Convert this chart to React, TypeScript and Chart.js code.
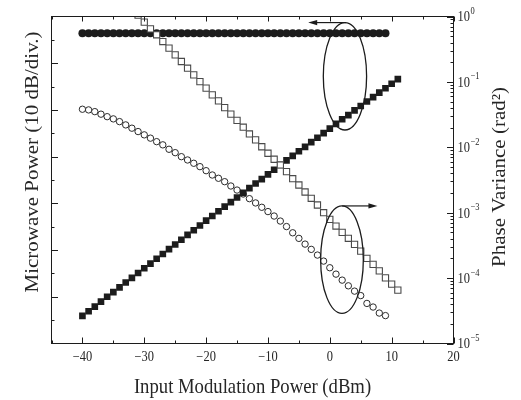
import React, { useEffect, useRef } from "react";
import { Chart, registerables } from "chart.js";

Chart.register(...registerables);

// ---------- data ----------
const inputPower = [
  -40, -39, -38, -37, -36, -35, -34, -33, -32, -31, -30, -29, -28, -27, -26, -25, -24, -23, -22, -21,
  -20, -19, -18, -17, -16, -15, -14, -13, -12, -11, -10, -9, -8, -7, -6, -5, -4, -3, -2, -1,
  0, 1, 2, 3, 4, 5, 6, 7, 8, 9, 10, 11,
];

// Microwave power (left axis, 10 dB/div.) — filled circles
const microwaveCircles = [
  66.4, 66.4, 66.4, 66.4, 66.4, 66.4, 66.4, 66.4, 66.4, 66.4, 66.4, 66.4, 66.4, 66.4, 66.4, 66.4, 66.4, 66.4, 66.4, 66.4,
  66.4, 66.4, 66.4, 66.4, 66.4, 66.4, 66.4, 66.4, 66.4, 66.4, 66.4, 66.4, 66.4, 66.4, 66.4, 66.4, 66.4, 66.4, 66.4, 66.4,
  66.4, 66.4, 66.4, 66.4, 66.4, 66.4, 66.4, 66.4, 66.4, 66.4, null, null,
];

// Microwave power (left axis) — filled squares
const microwaveSquares = [
  5.9, 6.9, 7.9, 8.95, 10.0, 11.0, 12.0, 13.05, 14.05, 15.1, 16.1, 17.1, 18.15, 19.15, 20.2, 21.2, 22.2, 23.25, 24.25, 25.25,
  26.3, 27.3, 28.3, 29.3, 30.25, 31.25, 32.25, 33.25, 34.25, 35.2, 36.2, 37.2, 38.2, 39.2, 40.15, 41.15, 42.1, 43.1, 44.05, 45.05,
  46.0, 47.0, 48.0, 48.9, 49.9, 50.85, 51.8, 52.75, 53.7, 54.65, 55.6, 56.6,
];

// Phase variance (right axis, rad^2) — open squares
const varianceSquares = [
  null, null, null, null, null, null, null, null, null,
  1.05, 0.821, 0.648, 0.525, 0.414, 0.328, 0.259, 0.205, 0.162, 0.128, 0.101,
  0.0802, 0.0633, 0.0513, 0.0405, 0.0321, 0.0258, 0.0203, 0.016, 0.013, 0.0102,
  0.00811, 0.00656, 0.00537, 0.00424, 0.00331, 0.00265, 0.00207, 0.00166, 0.00131, 0.001,
  0.000792, 0.000625, 0.000501, 0.000406, 0.000328, 0.000259, 0.0002, 0.000162, 0.000129, 0.000101,
  0.0000809, 0.0000655,
];

// Phase variance (right axis) — open circles
const varianceCircles = [
  0.0382, 0.0373, 0.0351, 0.0321, 0.0294, 0.0272, 0.0247, 0.022, 0.0196, 0.0174,
  0.0155, 0.0138, 0.0122, 0.0109, 0.00933, 0.00828, 0.00719, 0.0064, 0.0057, 0.00506,
  0.00439, 0.00377, 0.00336, 0.00298, 0.00256, 0.00222, 0.00193, 0.00164, 0.00141, 0.00121,
  0.00104, 0.000889, 0.000745, 0.000614, 0.000493, 0.000405, 0.000331, 0.000275, 0.000225, 0.000182,
  0.000144, 0.000115, 0.0000931, 0.0000762, 0.0000632, 0.000054, 0.000041, 0.0000361, 0.0000292, 0.0000267,
  null, null,
];

const xTickValues = [-40, -30, -20, -10, 0, 10, 20];
const xTickLabels = ["\u221240", "\u221230", "\u221220", "\u221210", "0", "10", "20"];
const xMinorTicks = [-45, -35, -25, -15, -5, 5, 15];
const leftMajorTicks = [10, 20, 30, 40, 50, 60];
const leftMinorTicks = [5, 15, 25, 35, 45, 55, 65];
const rightExponents = [0, -1, -2, -3, -4, -5];

const xTitle = "Input Modulation Power (dBm)";
const leftTitle = "Microwave Power (10 dB/div.)";
const rightTitle = "Phase Variance (rad\u00B2)";

// annotations in data units (x: dBm, y: left-axis units)
const ellipses = [
  { cx: 2.45, cy: 57.2, rx: 3.5, ry: 11.5 },
  { cx: 1.97, cy: 17.95, rx: 3.45, ry: 11.5 },
];
const arrows = [
  { x0: 2.6, x1: -3.5, y: 68.7 },
  { x0: 2.0, x1: 7.7, y: 29.45 },
];

const FONT = '"Liberation Serif", "Times New Roman", serif';
const SX = 0.89;
const INK = "#1c1c1c";

function txt(ctx: CanvasRenderingContext2D, s: string, x: number, y: number, size: number, align: CanvasTextAlign, rot = false) {
  ctx.save();
  ctx.translate(x, y);
  ctx.scale(SX, 1);
  if (rot) ctx.rotate(-Math.PI / 2);
  ctx.font = `${size}px ${FONT}`;
  ctx.textAlign = align;
  ctx.textBaseline = "alphabetic";
  ctx.fillStyle = "#262626";
  ctx.fillText(s, 0, 0);
  const w = ctx.measureText(s).width * SX;
  ctx.restore();
  return w;
}

const framePlugin = {
  id: "frame",
  afterDatasetsDraw(chart: any) {
    const ctx: CanvasRenderingContext2D = chart.ctx;
    const { left, right, top, bottom } = chart.chartArea;
    const xs = chart.scales.x;
    const ys = chart.scales.y;
    const y2 = chart.scales.y2;
    ctx.save();
    ctx.strokeStyle = INK;

    // annotations
    ctx.lineWidth = 1.3;
    for (const e of ellipses) {
      const cx = xs.getPixelForValue(e.cx);
      const cy = ys.getPixelForValue(e.cy);
      const rx = Math.abs(xs.getPixelForValue(e.cx + e.rx) - cx);
      const ry = Math.abs(ys.getPixelForValue(e.cy + e.ry) - cy);
      ctx.beginPath();
      ctx.ellipse(cx, cy, rx, ry, 0, 0, Math.PI * 2);
      ctx.stroke();
    }
    ctx.lineWidth = 1.2;
    for (const a of arrows) {
      const px0 = xs.getPixelForValue(a.x0);
      const px1 = xs.getPixelForValue(a.x1);
      const py = ys.getPixelForValue(a.y);
      const dir = px1 > px0 ? 1 : -1;
      ctx.beginPath();
      ctx.moveTo(px0, py);
      ctx.lineTo(px1 - dir * 6, py);
      ctx.stroke();
      ctx.beginPath();
      ctx.moveTo(px1, py);
      ctx.lineTo(px1 - dir * 9, py - 2.6);
      ctx.lineTo(px1 - dir * 9, py + 2.6);
      ctx.closePath();
      ctx.fillStyle = INK;
      ctx.fill();
    }

    // frame
    ctx.lineWidth = 1;
    ctx.strokeRect(left, top, right - left, bottom - top);

    // x ticks (bottom & top, inward)
    ctx.beginPath();
    for (const v of xTickValues) {
      const px = Math.round(xs.getPixelForValue(v)) + 0.5;
      ctx.moveTo(px, bottom); ctx.lineTo(px, bottom - 6);
      ctx.moveTo(px, top); ctx.lineTo(px, top + 5);
    }
    for (const v of xMinorTicks) {
      const px = Math.round(xs.getPixelForValue(v)) + 0.5;
      ctx.moveTo(px, bottom); ctx.lineTo(px, bottom - 3);
      ctx.moveTo(px, top); ctx.lineTo(px, top + 3);
    }
    // left ticks
    for (const v of leftMajorTicks) {
      const py = Math.round(ys.getPixelForValue(v)) + 0.5;
      ctx.moveTo(left, py); ctx.lineTo(left + 6.5, py);
    }
    for (const v of leftMinorTicks) {
      const py = Math.round(ys.getPixelForValue(v)) + 0.5;
      ctx.moveTo(left, py); ctx.lineTo(left + 3, py);
    }
    // right log ticks
    for (const e of rightExponents) {
      const py = Math.round(y2.getPixelForValue(Math.pow(10, e))) + 0.5;
      ctx.moveTo(right, py); ctx.lineTo(right - 6.5, py);
      if (e > -5) {
        for (let m = 2; m <= 9; m++) {
          const pm = Math.round(y2.getPixelForValue(m * Math.pow(10, e - 1))) + 0.5;
          ctx.moveTo(right, pm); ctx.lineTo(right - 3, pm);
        }
      }
    }
    ctx.stroke();

    // x tick labels
    xTickValues.forEach((v, i) => {
      txt(ctx, xTickLabels[i], xs.getPixelForValue(v), bottom + 17.5, 14, "center");
    });
    // right tick labels
    for (const e of rightExponents) {
      const py = y2.getPixelForValue(Math.pow(10, e));
      const w = txt(ctx, "10", right + 4, py + 4.8, 14, "left");
      txt(ctx, e === 0 ? "0" : "\u2212" + String(-e), right + 4 + w + 0.5, py - 2.5, 9.5, "left");
    }
    // titles
    txt(ctx, xTitle, (left + right) / 2, 392.7, 21, "center");
    txt(ctx, leftTitle, 37.5, 162, 21, "center", true);
    txt(ctx, rightTitle, 505, 177, 21, "center", true);
    ctx.restore();
  },
};

function pts(vals: (number | null)[]) {
  const out: { x: number; y: number }[] = [];
  vals.forEach((v, i) => {
    if (v !== null) out.push({ x: inputPower[i], y: v });
  });
  return out;
}

export default function App() {
  const ref = useRef<HTMLCanvasElement | null>(null);
  useEffect(() => {
    if (!ref.current) return;
    const chart = new Chart(ref.current, {
      type: "scatter",
      data: {
        datasets: [
          {
            label: "Phase variance (squares)",
            data: pts(varianceSquares),
            yAxisID: "y2",
            pointStyle: "rect",
            pointRadius: 4.4,
            backgroundColor: "#ffffff",
            borderColor: "#4a4a4a",
            borderWidth: 1.1,
            showLine: false,
            clip: 0,
          },
          {
            label: "Microwave power (squares)",
            data: pts(microwaveSquares),
            yAxisID: "y",
            pointStyle: "rect",
            pointRadius: 4.7,
            backgroundColor: "#1c1c1c",
            borderColor: "#1c1c1c",
            borderWidth: 0,
            showLine: false,
            clip: 0,
          },
          {
            label: "Phase variance (circles)",
            data: pts(varianceCircles),
            yAxisID: "y2",
            pointStyle: "circle",
            pointRadius: 3.2,
            backgroundColor: "#ffffff",
            borderColor: "#2a2a2a",
            borderWidth: 1,
            showLine: false,
            clip: 0,
          },
          {
            label: "Microwave power (circles)",
            data: pts(microwaveCircles),
            yAxisID: "y",
            pointStyle: "circle",
            pointRadius: 4.0,
            backgroundColor: "#1c1c1c",
            borderColor: "#1c1c1c",
            borderWidth: 0,
            showLine: false,
            clip: 0,
          },
        ],
      },
      options: {
        responsive: false,
        animation: false,
        events: [],
        layout: { padding: { left: 51.5, right: 67.5, top: 16.5, bottom: 56.5 } },
        plugins: { legend: { display: false }, tooltip: { enabled: false } },
        scales: {
          x: { type: "linear", min: -45, max: 20, display: false },
          y: { type: "linear", min: 0, max: 70, display: false, position: "left" },
          y2: { type: "logarithmic", min: 1e-5, max: 1, display: false, position: "right" },
        },
      },
      plugins: [framePlugin],
    } as any);
    return () => chart.destroy();
  }, []);
  return (
    <div style={{ position: "fixed", left: 0, top: 0, width: 521, height: 400, background: "#fff" }}>
      <canvas ref={ref} width={521} height={400} />
    </div>
  );
}
